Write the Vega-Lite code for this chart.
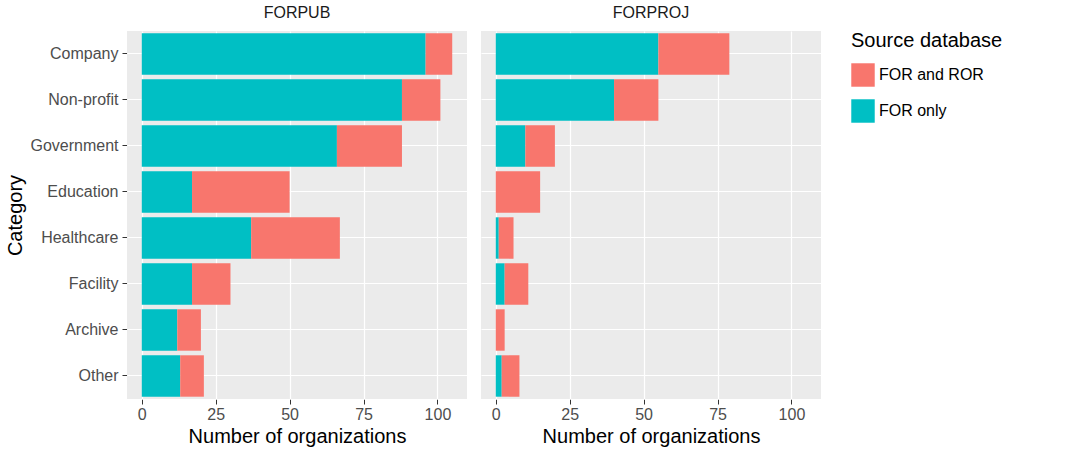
{
  "$schema": "https://vega.github.io/schema/vega-lite/v6.json",
  "background": "white",
  "padding": {"left": 5, "top": 5, "right": 5, "bottom": 5},
  "config": {
    "font": "Liberation Sans",
    "view": {"fill": "#EBEBEB", "stroke": null},
    "axis": {"gridColor": "white", "gridWidth": 1.2, "domain": false, "tickColor": "#333", "labelColor": "#4D4D4D", "labelFontSize": 16, "titleFontSize": 20, "titleFontWeight": "normal", "titleColor": "black"},
    "legend": {"labelFontSize": 16, "titleFontSize": 20, "titleFontWeight": "normal", "symbolType": "square", "symbolSize": 550, "symbolStrokeWidth": 0, "rowPadding": 12, "titlePadding": 12, "offset": 30, "padding": 0},
    "header": {"labelFontSize": 16, "labelColor": "#1A1A1A", "title": null}
  },
  "data": {"values": [
    {"panel": "FORPUB", "cat": "Company", "src": "FOR only", "n": 96},
    {"panel": "FORPUB", "cat": "Company", "src": "FOR and ROR", "n": 9},
    {"panel": "FORPUB", "cat": "Non-profit", "src": "FOR only", "n": 88},
    {"panel": "FORPUB", "cat": "Non-profit", "src": "FOR and ROR", "n": 13},
    {"panel": "FORPUB", "cat": "Government", "src": "FOR only", "n": 66},
    {"panel": "FORPUB", "cat": "Government", "src": "FOR and ROR", "n": 22},
    {"panel": "FORPUB", "cat": "Education", "src": "FOR only", "n": 17},
    {"panel": "FORPUB", "cat": "Education", "src": "FOR and ROR", "n": 33},
    {"panel": "FORPUB", "cat": "Healthcare", "src": "FOR only", "n": 37},
    {"panel": "FORPUB", "cat": "Healthcare", "src": "FOR and ROR", "n": 30},
    {"panel": "FORPUB", "cat": "Facility", "src": "FOR only", "n": 17},
    {"panel": "FORPUB", "cat": "Facility", "src": "FOR and ROR", "n": 13},
    {"panel": "FORPUB", "cat": "Archive", "src": "FOR only", "n": 12},
    {"panel": "FORPUB", "cat": "Archive", "src": "FOR and ROR", "n": 8},
    {"panel": "FORPUB", "cat": "Other", "src": "FOR only", "n": 13},
    {"panel": "FORPUB", "cat": "Other", "src": "FOR and ROR", "n": 8},
    {"panel": "FORPROJ", "cat": "Company", "src": "FOR only", "n": 55},
    {"panel": "FORPROJ", "cat": "Company", "src": "FOR and ROR", "n": 24},
    {"panel": "FORPROJ", "cat": "Non-profit", "src": "FOR only", "n": 40},
    {"panel": "FORPROJ", "cat": "Non-profit", "src": "FOR and ROR", "n": 15},
    {"panel": "FORPROJ", "cat": "Government", "src": "FOR only", "n": 10},
    {"panel": "FORPROJ", "cat": "Government", "src": "FOR and ROR", "n": 10},
    {"panel": "FORPROJ", "cat": "Education", "src": "FOR only", "n": 0},
    {"panel": "FORPROJ", "cat": "Education", "src": "FOR and ROR", "n": 15},
    {"panel": "FORPROJ", "cat": "Healthcare", "src": "FOR only", "n": 1},
    {"panel": "FORPROJ", "cat": "Healthcare", "src": "FOR and ROR", "n": 5},
    {"panel": "FORPROJ", "cat": "Facility", "src": "FOR only", "n": 3},
    {"panel": "FORPROJ", "cat": "Facility", "src": "FOR and ROR", "n": 8},
    {"panel": "FORPROJ", "cat": "Archive", "src": "FOR only", "n": 0},
    {"panel": "FORPROJ", "cat": "Archive", "src": "FOR and ROR", "n": 3},
    {"panel": "FORPROJ", "cat": "Other", "src": "FOR only", "n": 2},
    {"panel": "FORPROJ", "cat": "Other", "src": "FOR and ROR", "n": 6}
  ]},
  "facet": {
    "column": {"field": "panel", "sort": ["FORPUB", "FORPROJ"], "header": {"labelPadding": 10}}
  },
  "spacing": 14,
  "spec": {
    "width": 340,
    "height": 368,
    "mark": {"type": "bar"},
    "encoding": {
      "y": {
        "field": "cat", "type": "nominal", "title": "Category",
        "sort": ["Company", "Non-profit", "Government", "Education", "Healthcare", "Facility", "Archive", "Other"],
        "scale": {"paddingInner": 0.1, "paddingOuter": 0.05},
        "axis": {"grid": true, "tickSize": 5, "labelPadding": 4}
      },
      "x": {
        "field": "n", "type": "quantitative", "aggregate": "sum", "title": "Number of organizations",
        "stack": "zero",
        "scale": {"domain": [-5, 110], "nice": false},
        "axis": {"values": [0, 25, 50, 75, 100], "tickSize": 5}
      },
      "color": {
        "field": "src", "type": "nominal", "title": "Source database",
        "scale": {"domain": ["FOR and ROR", "FOR only"], "range": ["#F8766D", "#00BFC4"]}
      },
      "order": {"field": "src", "sort": "descending"}
    }
  }
}
